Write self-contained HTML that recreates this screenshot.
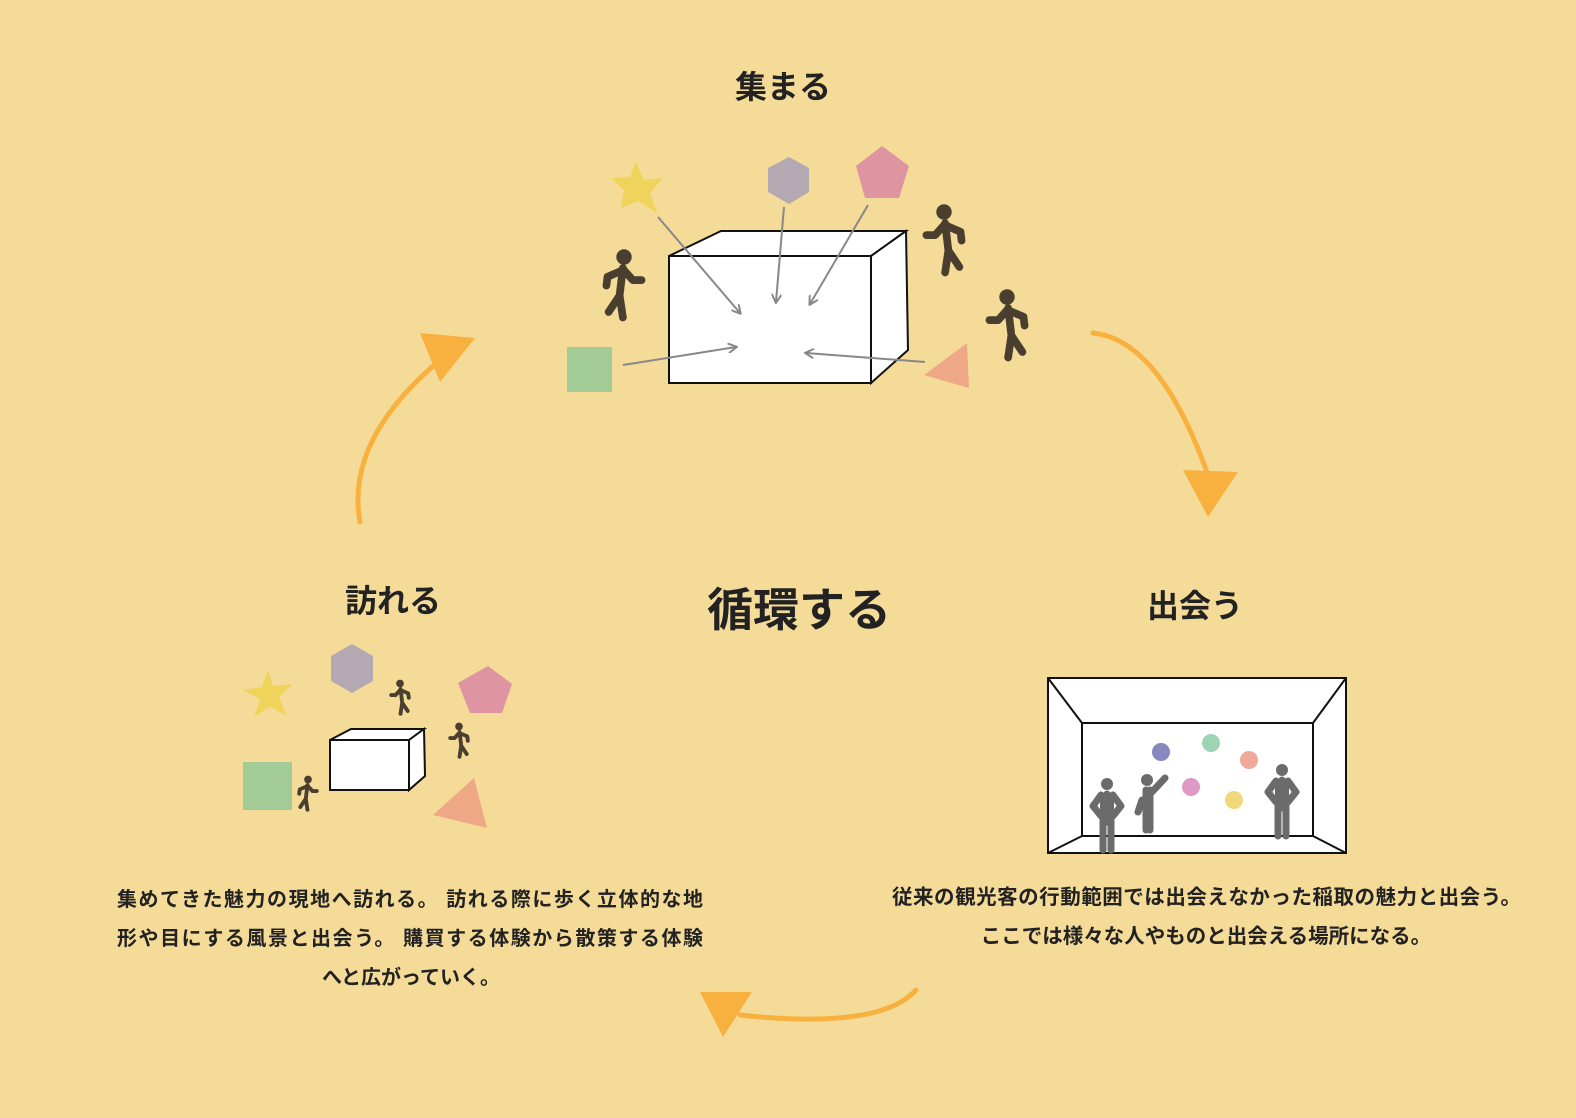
<!DOCTYPE html>
<html><head><meta charset="utf-8"><style>
html,body{margin:0;padding:0;background:#F5DB98;}
svg{display:block}
text{font-family:"Liberation Sans","Noto Sans CJK JP",sans-serif;font-weight:bold;fill:#222;}
</style></head><body>
<svg width="1576" height="1118" viewBox="0 0 1576 1118" xmlns="http://www.w3.org/2000/svg">
<defs>
<marker id="ga" markerWidth="10" markerHeight="10" refX="8" refY="5" orient="auto" markerUnits="userSpaceOnUse"><path d="M0,0 L9,5 L0,10" fill="none" stroke="#888" stroke-width="2"/></marker>
<g id="walker">
<circle cx="0" cy="-30" r="7" fill="#4a3f2e"/>
<path d="M-1,-20 L-4,5 M-4,5 L-14,20 M-4,5 L-1,25 M-1,-18 L-15,-12 L-16,-4 M0,-18 L8,-9 L16,-9" stroke="#4a3f2e" stroke-width="7" stroke-linecap="round" stroke-linejoin="round" fill="none"/>
</g>
<g id="gp">
<circle cx="0" cy="-30" r="6" fill="#6b6b6b"/>
<path d="M0,-20 L0,8 M-4,5 L-4,36 M4,5 L4,36 M-6,-19 L-14,-8 L-6,2 M6,-19 L14,-8 L6,2" stroke="#6b6b6b" stroke-width="7" stroke-linecap="round" stroke-linejoin="round" fill="none"/>
<rect x="-7" y="-21" width="14" height="28" fill="#6b6b6b"/>
</g>
</defs>
<rect width="1576" height="1118" fill="#F5DB98"/>

<text x="783" y="98" font-size="32" text-anchor="middle">集まる</text>
<text x="393" y="612" font-size="32" text-anchor="middle">訪れる</text>
<text x="1195" y="617" font-size="32" text-anchor="middle">出会う</text>
<text x="799" y="626" font-size="46" text-anchor="middle">循環する</text>

<!-- top scene -->
<polygon points="669,256 721,231 906,231 871,256" fill="#fff" stroke="#111" stroke-width="2"/>
<polygon points="871,256 906,231 908,350 871,383" fill="#fff" stroke="#111" stroke-width="2"/>
<rect x="669" y="256" width="202" height="127" fill="#fff" stroke="#111" stroke-width="2"/>
<polygon points="636,162 644,180 663,178 650,193 657,213 638,201 621,208 624,190 611,178 630,177" fill="#F0D35A"/>
<polygon points="789,157 809,168 809,192 789,204 768,192 768,168" fill="#B4A9B2"/>
<polygon points="882,146 909,166 899,198 865,198 856,166" fill="#DE94A1"/>
<rect x="567" y="347" width="45" height="45" fill="#A3CB98"/>
<polygon points="967,343 924,375 969,388" fill="#EFA886"/>
<g stroke="#888" stroke-width="2" marker-end="url(#ga)">
<line x1="658" y1="217" x2="740" y2="313"/>
<line x1="784" y1="207" x2="776" y2="302"/>
<line x1="868" y1="205" x2="810" y2="304"/>
<line x1="623" y1="365" x2="736" y2="347"/>
<line x1="925" y1="362" x2="806" y2="353"/>
</g>
<use href="#walker" transform="translate(624,290) scale(1.1)"/>
<use href="#walker" transform="translate(944,245) scale(-1.1,1.1)"/>
<use href="#walker" transform="translate(1007,330) scale(-1.1,1.1)"/>

<!-- orange arrows -->
<g fill="none" stroke="#F8B13F" stroke-width="5" stroke-linecap="round">
<path d="M1093,333 Q1160,340 1208,475"/>
<path d="M360,522 Q345,440 440,360"/>
<path d="M916,990 Q880,1030 740,1015"/>
</g>
<polygon points="1183,470 1238,472 1208,517" fill="#F8B13F"/>
<polygon points="420,333 475,338 440,382" fill="#F8B13F"/>
<polygon points="700,992 752,992 723,1037" fill="#F8B13F"/>

<!-- left scene -->
<polygon points="268,670 273,686 293,684 279,697 287,716 270,707 254,717 260,699 243,690 262,687" fill="#F0D35A"/>
<polygon points="352,644 373,656 373,681 352,693 331,681 331,656" fill="#B4A9B2"/>
<polygon points="488,666 512,684 502,713 470,713 458,683" fill="#DE94A1"/>
<rect x="243" y="762" width="49" height="48" fill="#A3CB98"/>
<polygon points="474,778 433,815 487,828" fill="#EFA886"/>
<polygon points="330,740 351,729 424,729 409,740" fill="#fff" stroke="#111" stroke-width="2"/>
<polygon points="409,740 424,729 425,776 409,790" fill="#fff" stroke="#111" stroke-width="2"/>
<rect x="330" y="740" width="79" height="50" fill="#fff" stroke="#111" stroke-width="2"/>
<use href="#walker" transform="translate(400,700) scale(-0.55,0.55)"/>
<use href="#walker" transform="translate(459,743) scale(-0.55,0.55)"/>
<use href="#walker" transform="translate(308,796) scale(0.55)"/>

<!-- room -->
<rect x="1048" y="678" width="298" height="175" fill="#fff" stroke="#111" stroke-width="2"/>
<rect x="1082" y="723" width="231" height="113" fill="none" stroke="#111" stroke-width="2"/>
<g stroke="#111" stroke-width="2"><line x1="1048" y1="678" x2="1082" y2="723"/><line x1="1346" y1="678" x2="1313" y2="723"/><line x1="1048" y1="853" x2="1082" y2="836"/><line x1="1346" y1="853" x2="1313" y2="836"/></g>
<circle cx="1161" cy="752" r="9" fill="#8A87BF"/>
<circle cx="1211" cy="743" r="9" fill="#9DD4B4"/>
<circle cx="1249" cy="760" r="9" fill="#F0A99A"/>
<circle cx="1191" cy="787" r="9" fill="#DE9AC4"/>
<circle cx="1234" cy="800" r="9" fill="#F1D87A"/>
<use href="#gp" transform="translate(1107,814)"/>
<use href="#gp" transform="translate(1282,800)"/>
<g>
<circle cx="1147" cy="780" r="6" fill="#6b6b6b"/>
<path d="M1146,790 L1146,830 M1150,790 L1150,830 M1142,800 L1138,812 M1152,792 L1165,778" stroke="#6b6b6b" stroke-width="7" stroke-linecap="round" fill="none"/>
</g>

<!-- paragraphs -->
<text x="117" y="906" font-size="20" textLength="586">集めてきた魅力の現地へ訪れる。 訪れる際に歩く立体的な地</text>
<text x="117" y="945" font-size="20" textLength="586">形や目にする風景と出会う。 購買する体験から散策する体験</text>
<text x="411" y="984" font-size="20" text-anchor="middle">へと広がっていく。</text>
<text x="892" y="904" font-size="20.5" textLength="629">従来の観光客の行動範囲では出会えなかった稲取の魅力と出会う。</text>
<text x="1206" y="943" font-size="20.5" text-anchor="middle">ここでは様々な人やものと出会える場所になる。</text>
</svg>
</body></html>
